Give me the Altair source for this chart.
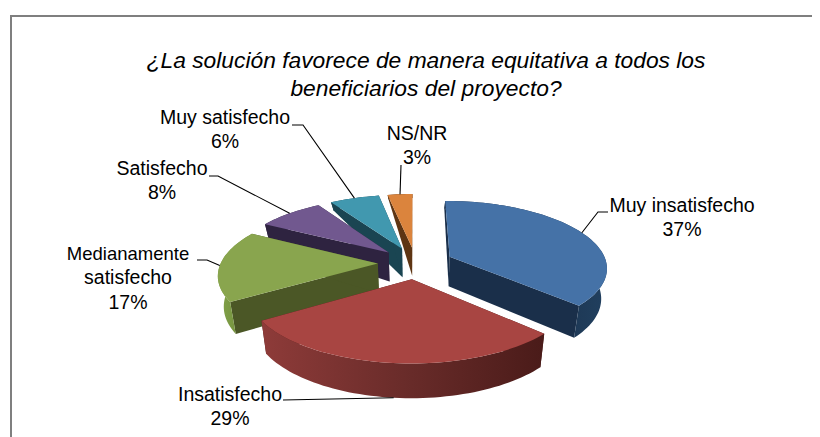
import math
import altair as alt
import pandas as pd

# ---- chart values ----
categories = ["Muy insatisfecho", "Insatisfecho", "Medianamente satisfecho",
              "Satisfecho", "Muy satisfecho", "NS/NR"]
percent = [37, 29, 17, 8, 6, 3]
title_lines = ["¿La solución favorece de manera equitativa a todos los",
               "beneficiarios del proyecto?"]

# ---- styles ----
top_col = ["#4572a7", "#a84542", "#89a54e", "#71588f", "#4198af", "#db843d"]
wall_col = ["#1a2f4a", "#4a1c1a", "#4b5726", "#2e2340", "#1a4552", "#5e3513"]
outer_stops = [["#1a2f4a", "#1a2f4a", "#21405f"],
               ["#8e3b39", "#6a2c2a", "#4a1b19"],
               ["#82a24a", "#76943f", "#66803a"],
               ["#2e2340", "#2e2340", "#2e2340"],
               ["#1a4552", "#1a4552", "#1a4552"],
               ["#5e3513", "#5e3513", "#5e3513"]]
draw_order = [5, 4, 3, 2, 0, 1]

# ---- pie geometry (projection of an exploded disc) ----
CX, CY, A, B, K, E = 415.5, 263, 157, 66, 0.15, 0.24
BOTTOM_SHRINK = 0.97


def depth(Y):
    return 29 + 24 * (Y + .2) if Y < -.2 else 29 + 4 * (Y + .2)


def project(theta, r, off, bottom=False):
    X = r * math.sin(theta) + off[0]
    Y = -r * math.cos(theta) + off[1]
    w = 1 / (1 - K * Y)
    sx = A * X * w
    sy = CY + B * Y * w
    if bottom:
        sx *= BOTTOM_SHRINK
        sy += depth(Y)
    return CX + sx, sy


def wedge_angles(i):
    total = sum(percent)
    a0 = sum(percent[:i]) / total * 2 * math.pi
    a1 = sum(percent[:i + 1]) / total * 2 * math.pi
    return a0, a1


def offset(i):
    a0, a1 = wedge_angles(i)
    m = (a0 + a1) / 2
    return E * math.sin(m), -E * math.cos(m)


def frame(pts):
    return pd.DataFrame({"x": [p[0] for p in pts], "y": [p[1] for p in pts],
                         "i": list(range(len(pts)))})


X_SCALE = alt.Scale(domain=[8, 812], range=[0, 804], nice=False, zero=False)
Y_SCALE = alt.Scale(domain=[8, 437], range=[0, 429], nice=False, zero=False)


def enc(ch):
    return ch.encode(x=alt.X("x:Q", scale=X_SCALE, axis=None),
                     y=alt.Y("y:Q", scale=Y_SCALE, axis=None),
                     order=alt.Order("i:Q"))


def poly(pts, fill):
    return enc(alt.Chart(frame(pts)).mark_line(filled=True, fill=fill, strokeWidth=0))


def grad(cols):
    return alt.Gradient(gradient="linear", x1=0, x2=1, y1=0, y2=0,
                        stops=[alt.GradientStop(offset=o, color=c)
                               for o, c in zip([0, .5, 1], cols)])


layers = []
for i in draw_order:
    a0, a1 = wedge_angles(i)
    off = offset(i)
    n = max(8, int(percent[i] * 2))
    arc = [a0 + (a1 - a0) * j / n for j in range(n + 1)]
    top_arc = [project(t, 1, off) for t in arc]
    bot_arc = [project(t, 1, off, True) for t in arc]
    apex_t, apex_b = project(0, 0, off), project(0, 0, off, True)
    # radial walls
    layers.append(poly([apex_t, top_arc[0], bot_arc[0], apex_b], wall_col[i]))
    layers.append(poly([apex_t, top_arc[-1], bot_arc[-1], apex_b], wall_col[i]))
    # outer wall
    layers.append(poly(top_arc + bot_arc[::-1], grad(outer_stops[i])))
    # top face
    layers.append(poly([apex_t] + top_arc, top_col[i]))

# ---- leader lines: label elbows, then a point on the wedge's arc ----
elbows = [[(608, 212), (598, 212)], [(283, 400)], [(197, 260), (207, 260)],
          [(209, 176), (218, 176)], [(292, 125), (303, 125)], [(401, 165)]]
for i in range(len(percent)):
    a0, a1 = wedge_angles(i)
    end = project((a0 + a1) / 2, 1, offset(i), bottom=(i == 1))
    layers.append(enc(alt.Chart(frame(elbows[i] + [end])).mark_line(
        color="#000000", strokeWidth=1.1)))

# ---- text ----
label_lines = [["Muy insatisfecho"], ["Insatisfecho"], ["Medianamente", "satisfecho"],
               ["Satisfecho"], ["Muy satisfecho"], ["NS/NR"]]
label_pos = [(682, 206), (230, 395), (128, 254), (162, 169), (225, 118), (417, 134)]
rows = []
for i, lines in enumerate(label_lines):
    x, y = label_pos[i]
    for j, t in enumerate(lines + [f"{percent[i]}%"]):
        rows.append({"x": x, "y": y + j * 24.3, "t": t,
                     "s": 18.5 if t == "Medianamente" else 19.5})
layers.append(alt.Chart(pd.DataFrame(rows)).mark_text(
    font="Liberation Sans", color="#000000", align="center",
    baseline="middle").encode(
    x=alt.X("x:Q", scale=X_SCALE, axis=None),
    y=alt.Y("y:Q", scale=Y_SCALE, axis=None), text="t:N",
    size=alt.Size("s:Q", scale=None, legend=None)))

layers.append(alt.Chart(pd.DataFrame({"x": [426, 426], "y": [61, 89], "t": title_lines})).mark_text(
    font="Liberation Sans", fontSize=22.8, fontStyle="italic", color="#000000",
    align="center", baseline="middle").encode(
    x=alt.X("x:Q", scale=X_SCALE, axis=None),
    y=alt.Y("y:Q", scale=Y_SCALE, axis=None), text="t:N"))

# ---- frame ----
layers.append(enc(alt.Chart(frame([(11, 437), (11, 16), (812, 16)])).mark_line(
    color="#7f7f7f", strokeWidth=2)))

chart = alt.layer(*layers).properties(
    width=804, height=429, padding=0,
    autosize=alt.AutoSizeParams(type="none"),
    background="#ffffff",
).configure_view(stroke=None)

chart.save("out.html", embed_options={"renderer": "svg", "actions": False})
